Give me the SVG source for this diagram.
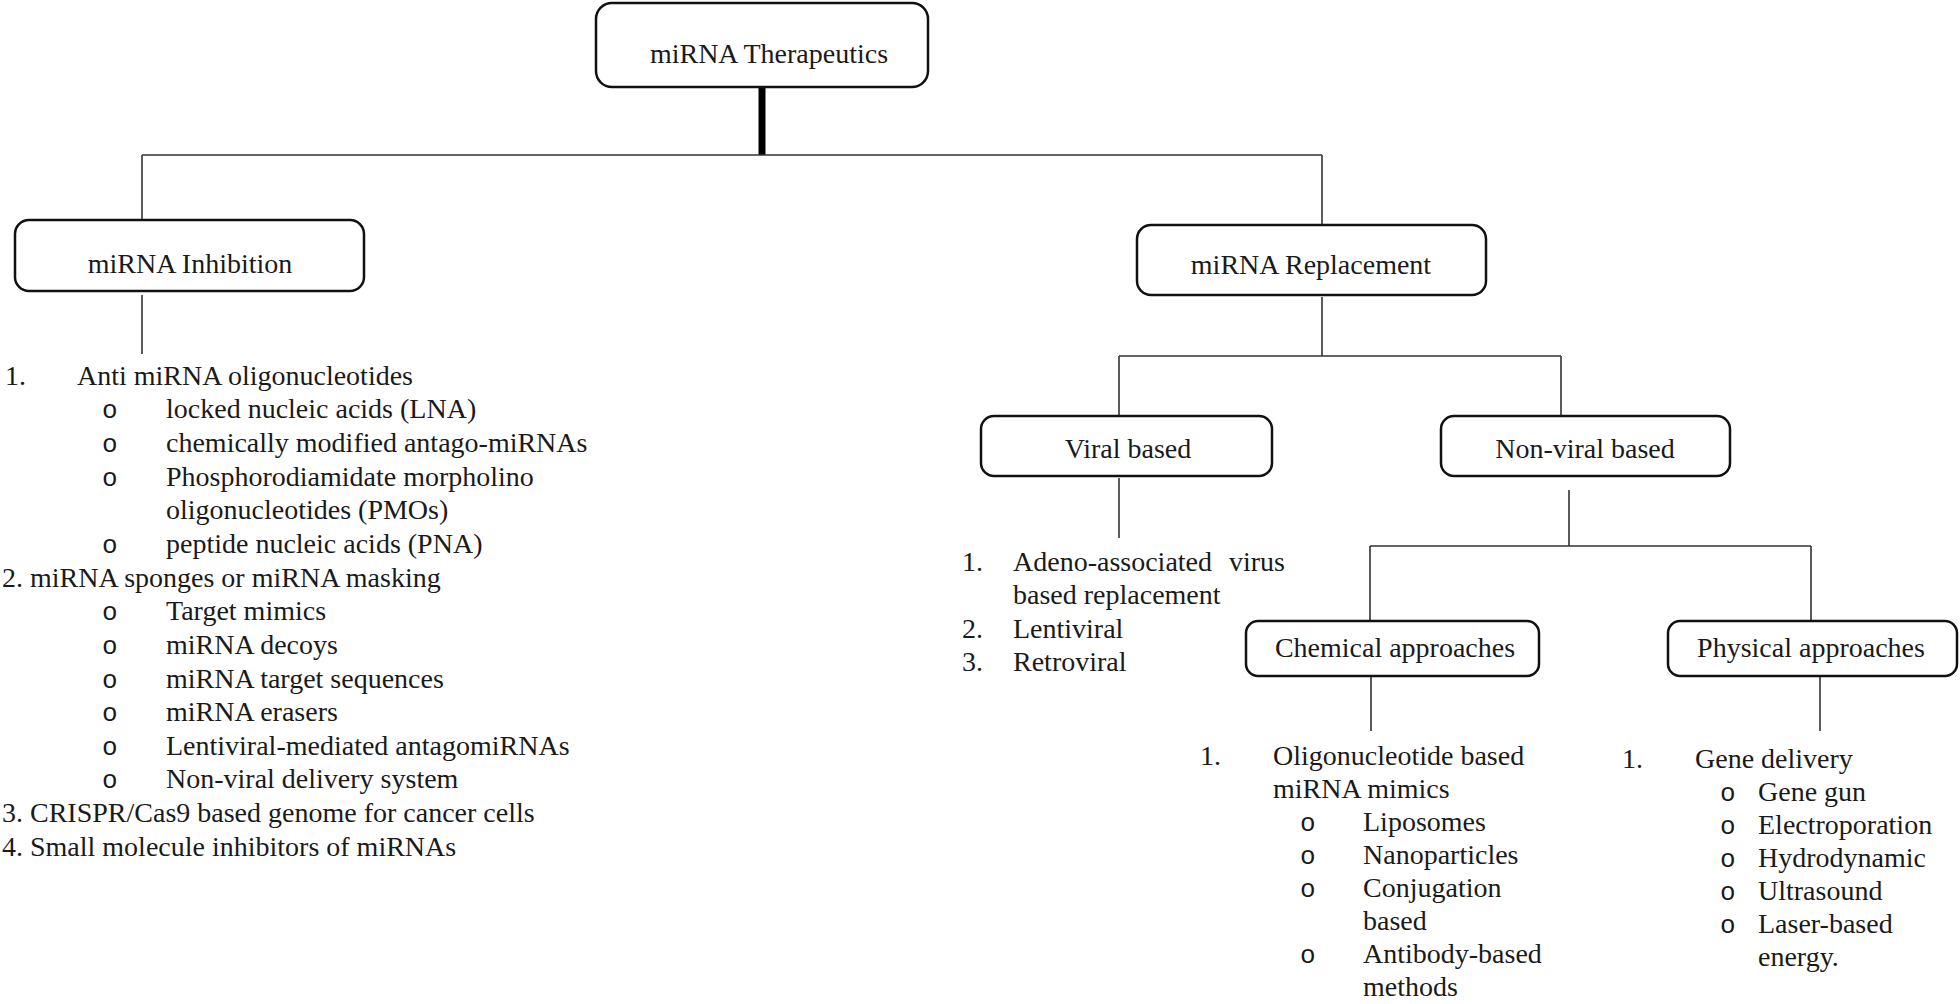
<svg xmlns="http://www.w3.org/2000/svg" width="1960" height="1004" viewBox="0 0 1960 1004">
<style>
text{font-family:"Liberation Serif","Times New Roman",serif;font-size:28px;fill:#1a1a1a}
.c{text-anchor:middle}
.b{font-family:"Liberation Mono","Courier New",monospace;font-size:26px}
.box{fill:#fff;stroke:#111;stroke-width:2.5}
.ln{stroke:#333;stroke-width:1.6;fill:none}
</style>
<rect width="1960" height="1004" fill="#fff"/>
<g id="connectors">
<line x1="762" y1="88" x2="762" y2="155" stroke="#000" stroke-width="7"/>
<path class="ln" d="M142 155H1322M142 155V220M1322 155V225"/>
<path class="ln" d="M142 295V354"/>
<path class="ln" d="M1322 297V356M1119 356H1561M1119 356V416M1561 356V416"/>
<path class="ln" d="M1119 478V538"/>
<path class="ln" d="M1569 490V546M1370 546H1811M1370 546V621M1811 546V621"/>
<path class="ln" d="M1371 676V731M1820 676V731"/>
</g>
<g id="n-therapeutics"><rect class="box" x="596" y="3" width="332" height="84" rx="16"/><text class="c" x="769" y="63">miRNA Therapeutics</text></g>
<g id="n-inhibition"><rect class="box" x="15" y="220" width="349" height="71" rx="14"/><text class="c" x="190" y="273">miRNA Inhibition</text></g>
<g id="n-replacement"><rect class="box" x="1137" y="225" width="349" height="70" rx="14"/><text class="c" x="1311" y="274">miRNA Replacement</text></g>
<g id="n-viral"><rect class="box" x="981" y="416" width="291" height="60" rx="13"/><text class="c" x="1128" y="458">Viral based</text></g>
<g id="n-nonviral"><rect class="box" x="1441" y="416" width="289" height="60" rx="13"/><text class="c" x="1585" y="458">Non-viral based</text></g>
<g id="n-chemical"><rect class="box" x="1246" y="621" width="293" height="55" rx="12"/><text class="c" x="1395" y="657">Chemical approaches</text></g>
<g id="n-physical"><rect class="box" x="1668" y="621" width="289" height="55" rx="12"/><text class="c" x="1811" y="657">Physical approaches</text></g>
<g id="list-inhibition">
<text x="5" y="385">1.</text><text x="77" y="385">Anti miRNA oligonucleotides</text>
<text class="b" x="102" y="418">o</text><text x="166" y="418">locked nucleic acids (LNA)</text>
<text class="b" x="102" y="452">o</text><text x="166" y="452">chemically modified antago-miRNAs</text>
<text class="b" x="102" y="486">o</text><text x="166" y="486">Phosphorodiamidate morpholino</text>
<text x="166" y="519">oligonucleotides (PMOs)</text>
<text class="b" x="102" y="553">o</text><text x="166" y="553">peptide nucleic acids (PNA)</text>
<text x="2" y="587">2. miRNA sponges or miRNA masking</text>
<text class="b" x="102" y="620">o</text><text x="166" y="620">Target mimics</text>
<text class="b" x="102" y="654">o</text><text x="166" y="654">miRNA decoys</text>
<text class="b" x="102" y="688">o</text><text x="166" y="688">miRNA target sequences</text>
<text class="b" x="102" y="721">o</text><text x="166" y="721">miRNA erasers</text>
<text class="b" x="102" y="755">o</text><text x="166" y="755">Lentiviral-mediated antagomiRNAs</text>
<text class="b" x="102" y="788">o</text><text x="166" y="788">Non-viral delivery system</text>
<text x="2" y="822">3. CRISPR/Cas9 based genome for cancer cells</text>
<text x="2" y="856">4. Small molecule inhibitors of miRNAs</text>
</g>
<g id="list-viral">
<text x="962" y="571">1.</text><text x="1013" y="571">Adeno-associated</text><text x="1285" y="571" text-anchor="end">virus</text>
<text x="1013" y="604">based replacement</text>
<text x="962" y="638">2.</text><text x="1013" y="638">Lentiviral</text>
<text x="962" y="671">3.</text><text x="1013" y="671">Retroviral</text>
</g>
<g id="list-chemical">
<text x="1200" y="765">1.</text><text x="1273" y="765">Oligonucleotide based</text>
<text x="1273" y="798">miRNA mimics</text>
<text class="b" x="1300" y="831">o</text><text x="1363" y="831">Liposomes</text>
<text class="b" x="1300" y="864">o</text><text x="1363" y="864">Nanoparticles</text>
<text class="b" x="1300" y="897">o</text><text x="1363" y="897">Conjugation</text>
<text x="1363" y="930">based</text>
<text class="b" x="1300" y="963">o</text><text x="1363" y="963">Antibody-based</text>
<text x="1363" y="996">methods</text>
</g>
<g id="list-physical">
<text x="1622" y="768">1.</text><text x="1695" y="768">Gene delivery</text>
<text class="b" x="1720" y="801">o</text><text x="1758" y="801">Gene gun</text>
<text class="b" x="1720" y="834">o</text><text x="1758" y="834">Electroporation</text>
<text class="b" x="1720" y="867">o</text><text x="1758" y="867">Hydrodynamic</text>
<text class="b" x="1720" y="900">o</text><text x="1758" y="900">Ultrasound</text>
<text class="b" x="1720" y="933">o</text><text x="1758" y="933">Laser-based</text>
<text x="1758" y="966">energy.</text>
</g>
</svg>
